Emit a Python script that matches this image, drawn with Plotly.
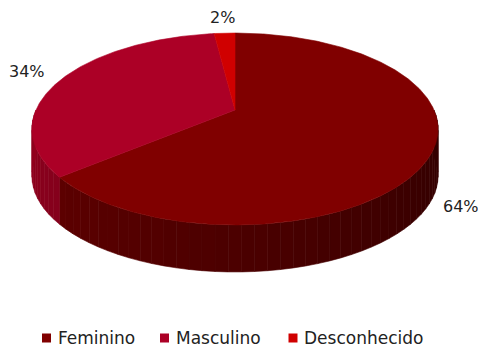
import numpy as np
import plotly.graph_objects as go

# Share of records by sex (percent)
categories = ["Feminino", "Masculino", "Desconhecido"]
shares = [64, 34, 2]
top_colors = ["#800000", "#AC0026", "#D00000"]
side_colors = [("#2E0000", "#5C0000"), ("#84001C", "#94001F"), ("#9A0000", "#A80000")]

W, H = 478, 350
AX, AY = 235, 110        # apex of the disc (pixels)
SX, SY = 199, 92.2       # projected radius scales
PERSP = 0.198            # perspective strength (far side shrinks)
DEPTH = 47               # thickness of the disc
FONT = "Century Gothic, DejaVu Sans, sans-serif"
TEXT = "#222222"


def rim(theta_cw, r=1.0):
    """Projected rim point for a clockwise angle (deg) from 12 o'clock."""
    a = np.radians(theta_cw)
    x3, z3 = r * np.sin(a), r * np.cos(a)   # z3 > 0 is the far side
    d = 1 + PERSP * z3
    return AX + SX * x3 / d, AY - SY * z3 / d


def mix(c1, c2, f):
    c1 = [int(c1[i:i + 2], 16) for i in (1, 3, 5)]
    c2 = [int(c2[i:i + 2], 16) for i in (1, 3, 5)]
    return "rgb(%d,%d,%d)" % tuple(round(a + (b - a) * f) for a, b in zip(c1, c2))


fig = go.Figure()

total = sum(shares)
bounds = np.cumsum([0] + shares) / total * 360.0

# side walls: only the near half (90°..270° clockwise) is visible
for i, cat in enumerate(categories):
    a0, a1 = bounds[i], bounds[i + 1]
    lo, hi = max(a0, 90), min(a1, 270)
    if hi <= lo:
        continue
    n = max(2, int((hi - lo) / 3))
    edges = np.linspace(lo, hi, n + 1)
    for k in range(n):
        t = np.linspace(edges[k], edges[k + 1], 4)
        xs, ys = zip(*[rim(v) for v in t])
        px = list(xs) + list(xs[::-1]) + [xs[0]]
        py = list(ys) + [y + DEPTH for y in ys[::-1]] + [ys[0]]
        col = mix(side_colors[i][0], side_colors[i][1], (k + 0.5) / n)
        fig.add_trace(go.Scatter(x=px, y=py, mode="lines", fill="toself",
                                 fillcolor=col, line=dict(color=col, width=0.6),
                                 hoverinfo="skip", showlegend=False))

# top faces
for i, cat in enumerate(categories):
    a0, a1 = bounds[i], bounds[i + 1]
    t = np.linspace(a0, a1, max(3, int((a1 - a0) * 2)))
    xs, ys = zip(*[rim(v) for v in t])
    px = [AX] + list(xs) + [AX]
    py = [AY] + list(ys) + [AY]
    fig.add_trace(go.Scatter(x=px, y=py, mode="lines", fill="toself",
                             fillcolor=top_colors[i],
                             line=dict(color=top_colors[i], width=0.6),
                             hoverinfo="skip", showlegend=False))

# percentage labels just outside each slice
label_gap = [30, 36, 16]
for i, cat in enumerate(categories):
    mid = (bounds[i] + bounds[i + 1]) / 2
    rx, ry = rim(mid)
    dx, dy = rx - AX, ry - AY
    n = np.hypot(dx, dy)
    lx, ly = rx + dx / n * label_gap[i], ry + dy / n * label_gap[i]
    if np.cos(np.radians(mid)) < 0:
        ly += DEPTH
    fig.add_annotation(x=lx, y=ly, text=f"{shares[i]}%", showarrow=False,
                       font=dict(family=FONT, size=16, color=TEXT),
                       xanchor="center", yanchor="middle")

# legend row: swatch + label
legend_x = [46.5, 164.5, 293]
legend_y = 338
fig.add_trace(go.Scatter(x=legend_x, y=[legend_y] * 3, mode="markers",
                         marker=dict(symbol="square", size=9, color=top_colors,
                                     line=dict(width=0)),
                         hoverinfo="skip", showlegend=False))
for i, cat in enumerate(categories):
    fig.add_annotation(x=legend_x[i] + 9, y=legend_y, text=cat, showarrow=False,
                       font=dict(family=FONT, size=17, color=TEXT),
                       xanchor="left", yanchor="middle", xshift=0)

fig.update_layout(
    width=W, height=H, autosize=False,
    margin=dict(l=0, r=0, t=0, b=0),
    paper_bgcolor="white", plot_bgcolor="white",
    showlegend=False,
    xaxis=dict(range=[0, W], visible=False, fixedrange=True),
    yaxis=dict(range=[H, 0], visible=False, fixedrange=True),
)

fig.write_html("out.html")
